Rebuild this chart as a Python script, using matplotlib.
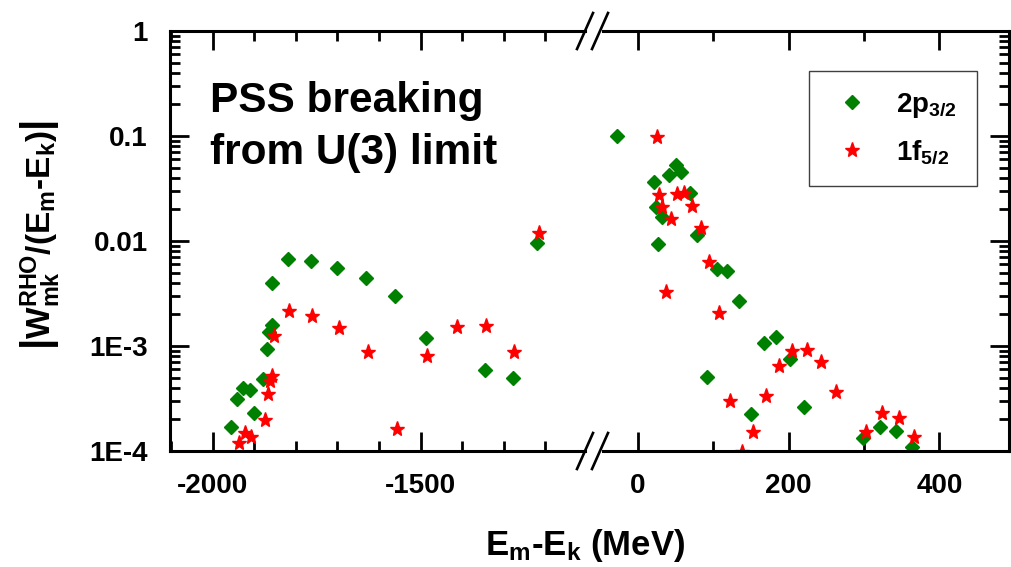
import numpy as np
import matplotlib
matplotlib.use('Agg')
import matplotlib.pyplot as plt
from matplotlib.ticker import LogLocator, NullFormatter
from matplotlib.lines import Line2D

plt.rcParams['font.family'] = ['Liberation Sans', 'DejaVu Sans']
plt.rcParams['font.weight'] = 'bold'
plt.rcParams['axes.unicode_minus'] = False
plt.rcParams['mathtext.fontset'] = 'custom'
plt.rcParams['mathtext.rm'] = 'Liberation Sans:bold'
plt.rcParams['mathtext.bf'] = 'Liberation Sans:bold'
plt.rcParams['mathtext.it'] = 'Liberation Sans:bold'
plt.rcParams['mathtext.sf'] = 'Liberation Sans:bold'
plt.rcParams['mathtext.default'] = 'bf'

# 2p3/2 (green diamonds)
p32_x = [-1957, -1941, -1926, -1910, -1901, -1880, -1870, -1865, -1858, -1857,
         -1818, -1763, -1700, -1632, -1561, -1488, -1345, -1279, -1221,
         -27, 51, 58, 41, 21, 70, 24, 32, 79, 27, 105, 119, 134, 167, 183,
         202, 92, 220, 150, 299, 321, 343, 364]
p32_y = [1.68e-4, 3.1e-4, 3.95e-4, 3.8e-4, 2.3e-4, 4.8e-4, 9.4e-4, 1.35e-3, 1.58e-3, 3.96e-3,
         6.7e-3, 6.45e-3, 5.57e-3, 4.42e-3, 2.99e-3, 1.18e-3, 5.87e-4, 4.92e-4, 9.64e-3,
         0.1007, 0.053, 0.0457, 0.0425, 0.0367, 0.0288, 0.0209, 0.017, 0.0114, 9.36e-3,
         5.37e-3, 5.18e-3, 2.67e-3, 1.06e-3, 1.21e-3, 7.47e-4, 5.04e-4, 2.61e-4, 2.24e-4,
         1.32e-4, 1.70e-4, 1.56e-4, 1.10e-4]

# 1f5/2 (red stars)
f52_x = [-1937, -1922, -1909, -1874, -1866, -1862, -1857, -1853, -1816, -1761,
         -1696, -1627, -1558, -1485, -1413, -1342, -1276, -1216,
         25, 28, 52, 61, 72, 32, 44, 84, 95, 38, 108, 122, 153, 170, 187,
         205, 224, 243, 263, 303, 324, 346, 367, 138]
f52_y = [1.18e-4, 1.49e-4, 1.35e-4, 1.97e-4, 3.49e-4, 4.67e-4, 5.18e-4, 1.25e-3, 2.17e-3, 1.94e-3,
         1.47e-3, 8.71e-4, 1.63e-4, 8.03e-4, 1.51e-3, 1.55e-3, 8.71e-4, 1.18e-2,
         0.0972, 0.0274, 0.0281, 0.0288, 0.0217, 0.0209, 0.0162, 0.0132, 6.27e-3, 3.25e-3,
         2.05e-3, 2.99e-4, 1.53e-4, 3.36e-4, 6.49e-4, 9.02e-4, 9.16e-4, 7.0e-4, 3.62e-4,
         1.53e-4, 2.29e-4, 2.05e-4, 1.37e-4, 9.8e-5]

ytick_vals = [1e-4, 1e-3, 1e-2, 1e-1, 1]
ytick_labels = ['1E-4', '1E-3', '0.01', '0.1', '1']
left_major = [-2000, -1500]
left_minor = [-2100, -1900, -1800, -1700, -1600, -1400, -1300, -1200]
right_major = [0, 200, 400]
right_minor = [100, 300]

W, H = 1011, 567
fig = plt.figure(figsize=(W / 100, H / 100), dpi=100)

bot = (H - 451) / H
hgt = 420 / H
ax1 = fig.add_axes([170 / W, bot, (585 - 170) / W, hgt])
ax2 = fig.add_axes([603 / W, bot, (1009 - 603) / W, hgt])

for ax in (ax1, ax2):
    ax.plot(p32_x, p32_y, ls='none', marker='D', ms=7.6, color='#008000', mec='#008000')
    ax.plot(f52_x, f52_y, ls='none', marker='*', ms=11, color='red', mec='red')
    ax.set_yscale('log')
    ax.set_ylim(1e-4, 1)
    ax.yaxis.set_minor_locator(LogLocator(base=10, subs=np.arange(2, 10)))
    ax.yaxis.set_minor_formatter(NullFormatter())
    ax.tick_params(which='both', direction='in', width=2, labelsize=20, top=True, pad=16)
    ax.tick_params(which='major', length=14)
    ax.tick_params(which='minor', length=7)
    for s in ax.spines.values():
        s.set_linewidth(2.2)

ax1.set_xlim(-2102.6, -1105)
ax1.set_xticks(left_major)
ax1.set_xticks(left_minor, minor=True)
ax1.set_yticks(ytick_vals, ytick_labels)
ax1.tick_params(axis='y', which='both', left=True, right=False)
ax1.spines['right'].set_visible(False)

ax2.set_xlim(-46, 492.4)
ax2.set_xticks(right_major)
ax2.set_xticks(right_minor, minor=True)
ax2.set_yticks(ytick_vals)
ax2.tick_params(axis='y', which='both', left=False, right=True, labelleft=False)
ax2.spines['left'].set_visible(False)

# axis break marks
for yc in (451, 31):
    for xc in (585, 600):
        fig.add_artist(Line2D([(xc - 8) / W, (xc + 8) / W],
                              [(H - yc - 18) / H, (H - yc + 18) / H],
                              color='black', lw=1.9, transform=fig.transFigure))

fig.text(210 / W, 1 - 112 / H, 'PSS breaking', fontsize=30.5, fontweight='bold', va='baseline')
fig.text(210 / W, 1 - 164 / H, 'from U(3) limit', fontsize=30.5, fontweight='bold', va='baseline')

fig.text(585.5 / W, 12 / H, r'E$_{m}$-E$_{k}$ (MeV)', fontsize=25, ha='center', va='baseline')
fig.text(40 / W, 1 - 235 / H, r'$\left|W^{RHO}_{mk}/(E_{m}\text{-}E_{k})\right|$',
         fontsize=24, rotation=90, ha='center', va='center')

leg = ax2.legend(ax2.lines[:2], ['2p$_{3/2}$', '1f$_{5/2}$'], loc='upper right',
                 bbox_to_anchor=(977 / W, 1 - 71 / H), bbox_transform=fig.transFigure,
                 fontsize=20, numpoints=1, fancybox=False, framealpha=1,
                 edgecolor='#404040', borderpad=0.72, handlelength=1.6,
                 handletextpad=0.8, labelspacing=0.67, borderaxespad=0)
leg.get_frame().set_linewidth(1)

fig.savefig('out.png', dpi=100)
